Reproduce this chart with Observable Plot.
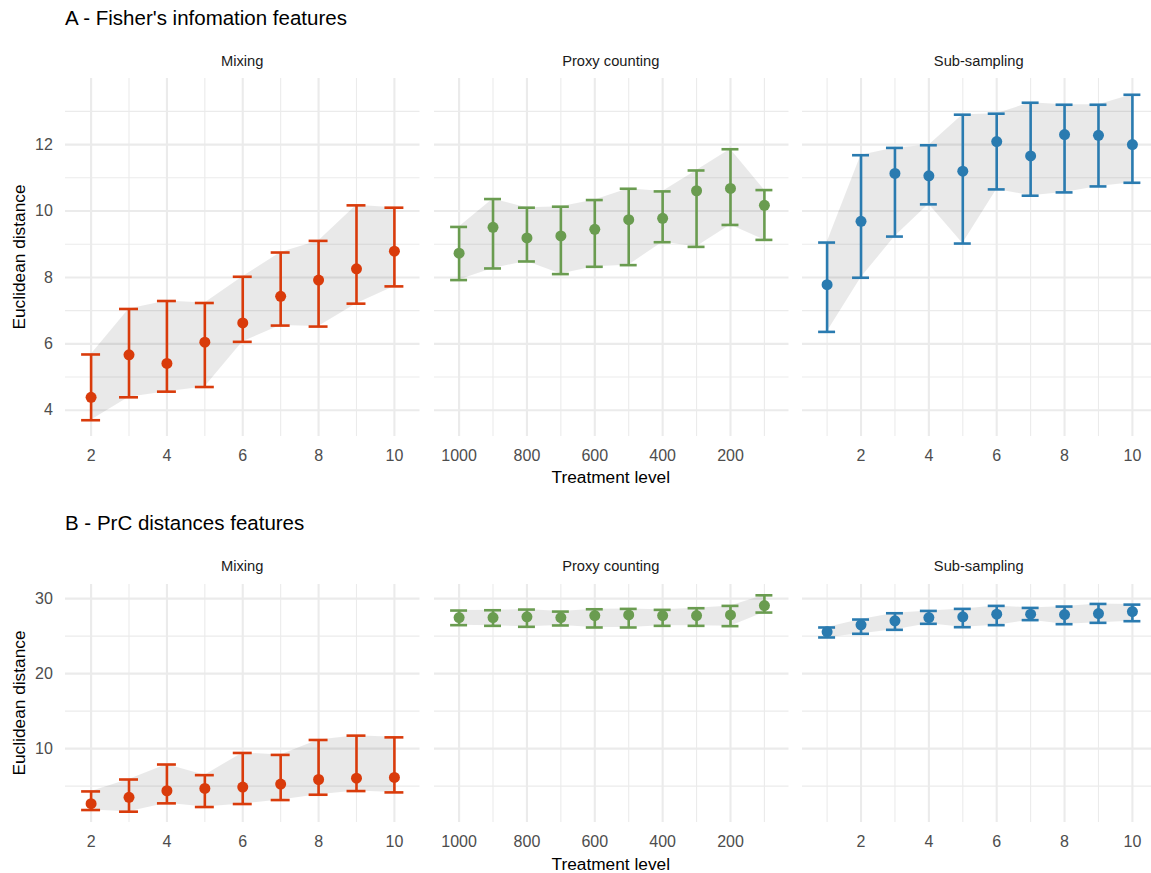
<!DOCTYPE html>
<html><head><meta charset="utf-8">
<script src="https://cdn.jsdelivr.net/npm/d3@7"></script>
<script src="https://cdn.jsdelivr.net/npm/@observablehq/plot@0.6"></script>
<style>
html,body{margin:0;padding:0;background:#fff;}
#chart{position:relative;width:1151px;height:873px;overflow:hidden;font-family:"Liberation Sans",Arial,sans-serif;}
#chart svg{position:absolute;}
</style></head><body><div id="chart"></div>
<script>
// ---------- categories / labels ----------
const facetNames = ["Mixing", "Proxy counting", "Sub-sampling"];
const facetColors = ["#D93B0B", "#6A9C50", "#2A7BB0"];
const panelTitles = ["A - Fisher's infomation features", "B - PrC distances features"];
const yTitle = "Euclidean distance";
const xTitle = "Treatment level";

const mixLevels = [2, 3, 4, 5, 6, 7, 8, 9, 10];
const proxyLevels = [1000, 900, 800, 700, 600, 500, 400, 300, 200, 100];
const subLevels = [1, 2, 3, 4, 5, 6, 7, 8, 9, 10];

// ---------- A: Fisher's information features ----------
const fisherMixMean  = [4.39, 5.67, 5.41, 6.05, 6.63, 7.43, 7.92, 8.26, 8.79];
const fisherMixLow   = [3.70, 4.39, 4.56, 4.70, 6.06, 6.55, 6.52, 7.21, 7.73];
const fisherMixHigh  = [5.68, 7.05, 7.29, 7.23, 8.02, 8.75, 9.10, 10.17, 10.10];

const fisherProxyMean = [8.73, 9.51, 9.19, 9.25, 9.45, 9.74, 9.78, 10.61, 10.68, 10.17];
const fisherProxyLow  = [7.92, 8.27, 8.48, 8.10, 8.32, 8.37, 9.06, 8.92, 9.58, 9.13];
const fisherProxyHigh = [9.52, 10.36, 10.10, 10.13, 10.33, 10.67, 10.59, 11.22, 11.86, 10.63];

const fisherSubMean = [7.78, 9.69, 11.13, 11.06, 11.20, 12.09, 11.66, 12.30, 12.28, 12.00];
const fisherSubLow  = [6.36, 7.99, 9.23, 10.20, 9.02, 10.65, 10.46, 10.56, 10.74, 10.85];
const fisherSubHigh = [9.05, 11.68, 11.90, 11.98, 12.90, 12.93, 13.26, 13.20, 13.20, 13.50];

// ---------- B: PrC distances features ----------
const prcMixMean = [2.65, 3.50, 4.38, 4.69, 4.87, 5.27, 5.88, 6.06, 6.15];
const prcMixLow  = [1.81, 1.59, 2.70, 2.21, 2.61, 3.14, 3.85, 4.34, 4.16];
const prcMixHigh = [4.29, 5.88, 7.88, 6.46, 9.42, 9.16, 11.15, 11.73, 11.50];

const prcProxyMean = [27.48, 27.48, 27.57, 27.48, 27.74, 27.83, 27.74, 27.74, 27.83, 29.07];
const prcProxyLow  = [26.46, 26.37, 26.24, 26.42, 26.15, 26.15, 26.37, 26.37, 26.33, 28.14];
const prcProxyHigh = [28.41, 28.45, 28.54, 28.27, 28.58, 28.63, 28.50, 28.72, 29.03, 30.44];

const prcSubMean = [25.58, 26.50, 27.04, 27.48, 27.57, 27.92, 27.92, 27.88, 28.01, 28.27];
const prcSubLow  = [24.82, 25.31, 25.84, 26.64, 26.19, 26.46, 27.13, 26.59, 26.77, 26.99];
const prcSubHigh = [26.15, 27.21, 28.05, 28.36, 28.63, 29.03, 28.76, 28.94, 29.29, 29.20];

// ---------- tick values ----------
const yMajorA = [4, 6, 8, 10, 12], yMinorA = [5, 7, 9, 11, 13];
const yMajorB = [10, 20, 30], yMinorB = [5, 15, 25];
const xMajorMix = [2, 4, 6, 8, 10], xMinorMix = [3, 5, 7, 9];
const xMajorProxy = [1000, 800, 600, 400, 200], xMinorProxy = [900, 700, 500, 300, 100];
const xMajorSub = [2, 4, 6, 8, 10], xMinorSub = [1, 3, 5, 7, 9];

// ---------- helpers ----------
const FONT = '"Liberation Sans", Arial, sans-serif';
const makeRows = (levels, mean, low, high) =>
  levels.map((x, i) => ({x, mean: mean[i], low: low[i], high: high[i]}));
const expand = ([a, b]) => { const d = (b - a) * 0.05; return [a - d, b + d]; };

const rowsData = [
  [makeRows(mixLevels, fisherMixMean, fisherMixLow, fisherMixHigh),
   makeRows(proxyLevels, fisherProxyMean, fisherProxyLow, fisherProxyHigh),
   makeRows(subLevels, fisherSubMean, fisherSubLow, fisherSubHigh)],
  [makeRows(mixLevels, prcMixMean, prcMixLow, prcMixHigh),
   makeRows(proxyLevels, prcProxyMean, prcProxyLow, prcProxyHigh),
   makeRows(subLevels, prcSubMean, prcSubLow, prcSubHigh)]
];
const capHalf = [0.25, 25, 0.25];
const reversedX = [false, true, false];
const xMajors = [xMajorMix, xMajorProxy, xMajorSub];
const xMinors = [xMinorMix, xMinorProxy, xMinorSub];
const yMajors = [yMajorA, yMajorB];
const yMinors = [yMinorA, yMinorB];

// layout (pixels)
const colLeft = [65, 433.5, 801.5];
const panelW = 354.5;
const rowTop = [78, 584];
const rowBottom = [436, 822];
const titleBase = [25, 530];
const stripBase = [65.5, 570.5];
const xTitleBase = [483, 869.5];

const chart = document.getElementById("chart");
const mL = 60, mR = 2, mT = 2, mB = 40;

rowsData.forEach((rowSet, r) => {
  const allLow = rowSet.flat().map(d => d.low);
  const allHigh = rowSet.flat().map(d => d.high);
  const yDomain = expand([d3.min(allLow), d3.max(allHigh)]);
  const h = rowBottom[r] - rowTop[r];
  rowSet.forEach((rows, c) => {
    const hw = capHalf[c];
    let xDomain = expand([d3.min(rows, d => d.x) - hw, d3.max(rows, d => d.x) + hw]);
    if (reversedX[c]) xDomain = xDomain.slice().reverse();
    const color = facetColors[c];
    const marks = [
      Plot.ruleY(yMinors[r], {stroke: "#ebebeb", strokeWidth: 1.1}),
      Plot.ruleY(yMajors[r], {stroke: "#ebebeb", strokeWidth: 2.1}),
      Plot.ruleX(xMinors[c], {stroke: "#ebebeb", strokeWidth: 1.1}),
      Plot.ruleX(xMajors[c], {stroke: "#ebebeb", strokeWidth: 2.1}),
      Plot.areaY(rows, {x: "x", y1: "low", y2: "high", fill: "#000", fillOpacity: 0.085}),
      Plot.ruleX(rows, {x: "x", y1: "low", y2: "high", stroke: color, strokeWidth: 2.6}),
      Plot.ruleY(rows, {y: "high", x1: d => d.x - hw, x2: d => d.x + hw, stroke: color, strokeWidth: 2.6}),
      Plot.ruleY(rows, {y: "low", x1: d => d.x - hw, x2: d => d.x + hw, stroke: color, strokeWidth: 2.6}),
      Plot.dot(rows, {x: "x", y: "mean", r: 5.5, fill: color}),
      Plot.axisX(xMajors[c], {tickSize: 0, tickPadding: 13.5, fontSize: 16, label: null, tickFormat: d => `${d}`})
    ];
    if (c === 0) marks.push(Plot.axisY(yMajors[r], {tickSize: 0, tickPadding: 12.7, fontSize: 16, label: null, tickFormat: d => `${d}`}));
    const p = Plot.plot({
      width: panelW + mL + mR,
      height: h + mT + mB,
      marginLeft: mL, marginRight: mR, marginTop: mT, marginBottom: mB,
      x: {domain: xDomain},
      y: c === 0 ? {domain: yDomain} : {domain: yDomain, axis: null},
      style: {fontFamily: FONT, color: "#4d4d4d", background: "transparent", overflow: "visible"},
      marks
    });
    p.style.left = (colLeft[c] - mL) + "px";
    p.style.top = (rowTop[r] - mT) + "px";
    chart.appendChild(p);
  });
});

// ---------- text overlay ----------
const svg = d3.create("svg")
  .attr("width", 1151).attr("height", 873)
  .style("left", "0px").style("top", "0px")
  .style("pointer-events", "none")
  .style("font-family", FONT);
[0, 1].forEach(r => {
  svg.append("text").attr("x", colLeft[0]).attr("y", titleBase[r])
    .attr("font-size", 20.5).attr("fill", "#000").text(panelTitles[r]);
  facetNames.forEach((name, c) => {
    svg.append("text").attr("x", colLeft[c] + panelW / 2).attr("y", stripBase[r])
      .attr("text-anchor", "middle").attr("font-size", 14.7).attr("fill", "#1a1a1a").text(name);
  });
  svg.append("text").attr("x", colLeft[1] + panelW / 2).attr("y", xTitleBase[r])
    .attr("text-anchor", "middle").attr("font-size", 17.3).attr("fill", "#000").text(xTitle);
  const cy = (rowTop[r] + rowBottom[r]) / 2;
  svg.append("text").attr("transform", `translate(25,${cy}) rotate(-90)`)
    .attr("text-anchor", "middle").attr("font-size", 17.3).attr("fill", "#000").text(yTitle);
});
chart.appendChild(svg.node());
</script></body></html>
